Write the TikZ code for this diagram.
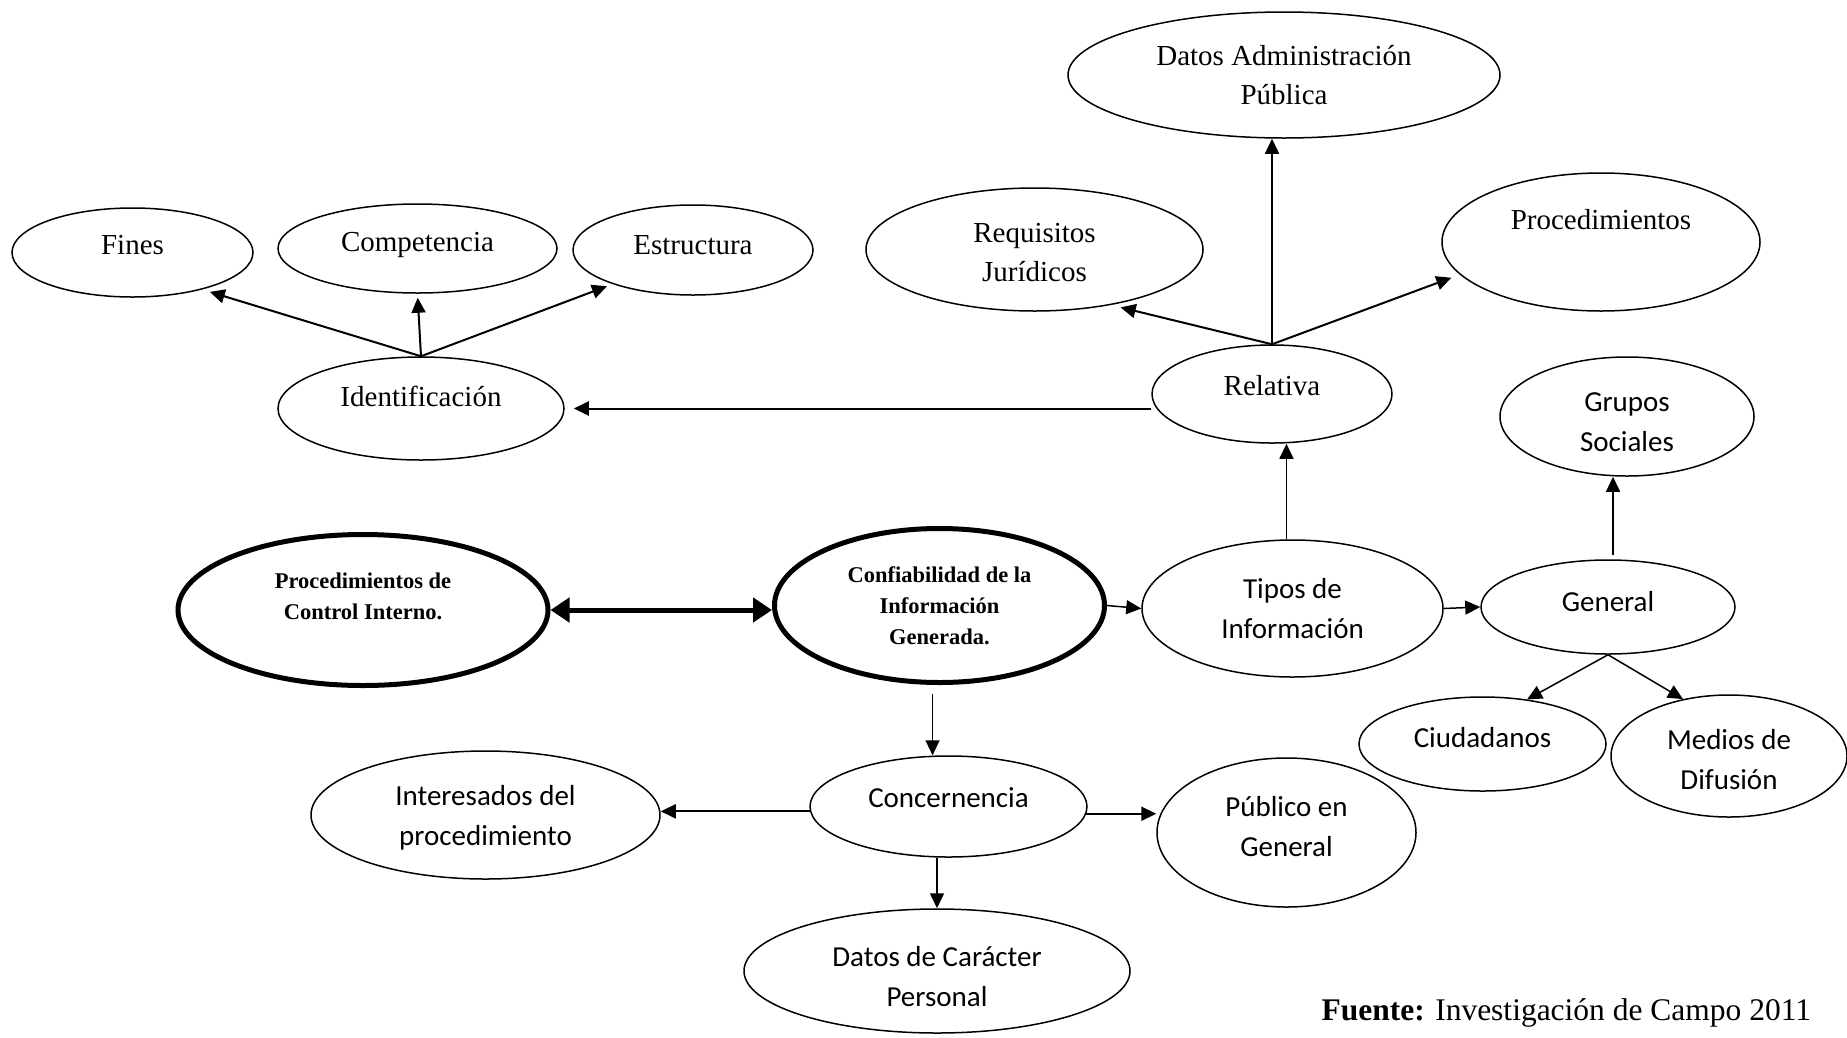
\documentclass[tikz,border=0pt]{standalone}
\usepackage{fontspec}
\setmainfont{Liberation Serif}
\newfontfamily\calfont{Carlito}
\usetikzlibrary{shapes.geometric,arrows.meta}
\begin{document}
\begin{tikzpicture}[x=1pt,y=-1pt,
  ell/.style={ellipse, draw, line width=1.5pt, inner sep=0pt, align=center},
  tnr/.style={font=\fontsize{29}{39}\selectfont},
  cal/.style={font=\calfont\fontsize{29}{40}\selectfont},
  bld/.style={font=\bfseries\fontsize{22.5}{31}\selectfont},
  thick ell/.style={ell, line width=5pt},
  sz/.style 2 args={minimum width=#1pt, minimum height=#2pt},
  tx/.style={text height=20pt, text depth=#1},
  arr/.style={-{Triangle[length=15pt,width=14pt]}, line width=2pt},
  tarr/.style={-{Triangle[length=15pt,width=14pt]}, line width=1.5pt},
  darr/.style={{Triangle[length=19pt,width=24pt]}-{Triangle[length=19pt,width=24pt]}, line width=5pt}
]
\useasboundingbox (0,0) rectangle (1847,1037);
% top-left group
\node[ell,tnr,sz={241}{89},tx=17pt] (fines) at (132.5,252.5) {Fines};
\node[ell,tnr,sz={279}{89},tx=15pt] (comp) at (417.5,248.5) {Competencia};
\node[ell,tnr,sz={240}{90},tx=12pt] (estr) at (693,250) {Estructura};
\node[ell,tnr,sz={286}{103},tx=25pt] (idf) at (421,408.5) {Identificación};
% top-right group
\node[ell,tnr,sz={432}{126}] (datos) at (1284,75) {Datos Administración\\Pública};
\node[ell,tnr,sz={337}{123},text height=63pt,text depth=0pt] (req) at (1034.5,249.5) {Requisitos\\Jurídicos};
\node[ell,tnr,sz={318}{138},tx=46pt] (proc) at (1601,242) {Procedimientos};
\node[ell,tnr,sz={240}{98},tx=18pt] (rel) at (1272,394) {Relativa};
\node[ell,cal,sz={254}{119},text height=69pt,text depth=0pt] (grupos) at (1627,416.5) {Grupos\\Sociales};
% middle row
\node[thick ell,bld,sz={370}{151},text depth=28pt] (pc) at (363,610) {Procedimientos de\\Control Interno.};
\node[thick ell,bld,sz={330}{154}] (conf) at (939.5,605.5) {Confiabilidad de la\\Información\\Generada.};
\node[ell,cal,sz={301}{137}] (tipos) at (1292.5,608.5) {Tipos de\\Información};
\node[ell,cal,sz={254}{94},tx=12pt] (gen) at (1608,607) {General};
\node[ell,cal,sz={247}{94},tx=14pt] (ciud) at (1482.5,744) {Ciudadanos};
\node[ell,cal,sz={236}{122},text height=67.5pt,text depth=0pt] (medios) at (1729,756) {Medios de\\Difusión};
% bottom
\node[ell,cal,sz={277}{101},tx=19pt] (conc) at (948.5,806.5) {Concernencia};
\node[ell,cal,sz={349}{128},text depth=-1pt] (inter) at (485.5,815) {Interesados del\\procedimiento};
\node[ell,cal,sz={259}{149},text depth=13pt] (pub) at (1286.5,832.5) {Público en\\General};
\node[ell,cal,sz={386}{124},text height=70pt,text depth=0pt] (dc) at (937,971) {Datos de Carácter\\Personal};
\node[anchor=base west,font=\fontsize{31.5}{38}\selectfont] (fuente) at (1318,1020) {\textbf{Fuente:} Investigación de Campo 2011};
% connectors
\draw[arr,shorten >=8pt] (idf.north) -- (fines.-28);
\draw[arr,shorten >=4pt] (idf.north) -- (comp.south);
\draw[arr,shorten >=6pt] (idf.north) -- (estr.-157);
\draw[arr,shorten >=9pt] (rel.west |- idf.east) -- (idf.east);
\draw[tarr] (rel.north) -- (rel.north |- datos.south);
\draw[arr,shorten >=10pt] (rel.north) -- (req.-36);
\draw[arr,shorten >=9pt] (rel.north) -- (proc.-167);
\draw[tarr] (tipos.95) -- (tipos.95 |- rel.south);
\draw[darr] (pc.east) -- (pc.east -| conf.west);
\draw[tarr] (conf.east) -- (tipos.west);
\draw[tarr] (tipos.east) -- (gen.west);
\draw[tarr,shorten <=4pt] (gen.84) -- (gen.84 |- grupos.south);
\draw[tarr] (gen.south) -- (ciud.45);
\draw[tarr] (gen.south) -- (medios.129);
\draw[tarr,shorten <=9pt] (conf.265) -- (conf.265 |- conc.north);
\draw[arr] (conc.182) -- (conc.182 -| inter.east);
\draw[arr] (conc.-3) -- (conc.-3 -| pub.west);
\draw[tarr] (dc.north |- conc.south) -- (dc.north);
\end{tikzpicture}
\end{document}
